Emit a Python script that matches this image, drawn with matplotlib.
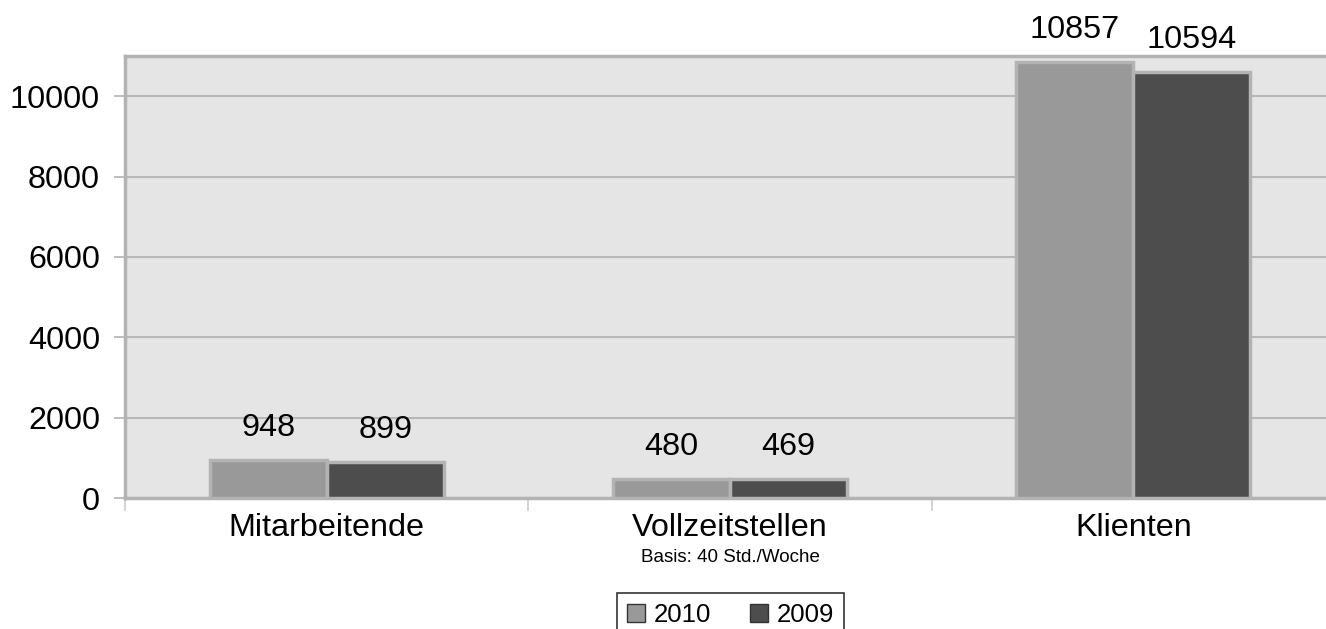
import matplotlib.pyplot as plt
from matplotlib.patches import Patch

# data
categories = ["Mitarbeitende", "Vollzeitstellen", "Klienten"]
years = ["2010", "2009"]
vals_2010 = [948, 480, 10857]
vals_2009 = [899, 469, 10594]
yticks = [0, 2000, 4000, 6000, 8000, 10000]

plt.rcParams['font.family'] = ['Liberation Sans', 'DejaVu Sans']

W, H = 1326, 629
fig = plt.figure(figsize=(W / 100, H / 100), dpi=100)
# plot area runs a bit past the right edge of the picture
ax = fig.add_axes([125 / W, (H - 498) / H, 1210 / W, (498 - 56) / H])

bg = "#e5e5e5"
edge = "#b3b3b3"
c2010 = "#999999"
c2009 = "#4d4d4d"

ax.set_facecolor(bg)
x = list(range(len(categories)))
bw = 0.29
b1 = ax.bar([i - bw / 2 for i in x], vals_2010, width=bw, color=c2010,
            edgecolor=edge, linewidth=2.5, zorder=3)
b2 = ax.bar([i + bw / 2 for i in x], vals_2009, width=bw, color=c2009,
            edgecolor=edge, linewidth=2.5, zorder=3)

# value labels above bars
for bars, vals in ((b1, vals_2010), (b2, vals_2009)):
    for rect, v in zip(bars, vals):
        ax.annotate(str(v), (rect.get_x() + rect.get_width() / 2, v),
                    xytext=(0, 23), textcoords="offset points",
                    ha="center", va="center", fontsize=23.3, color="black",
                    annotation_clip=False)

ax.set_xlim(-0.5, 2.5)
ax.set_ylim(0, 11000)
ax.set_yticks(yticks)
ax.set_yticklabels([str(t) for t in yticks], fontsize=23.3)
ax.yaxis.grid(True, color="#b8b8b8", linewidth=1.5, zorder=0)
ax.set_axisbelow(True)
ax.tick_params(axis="y", length=8, width=1.2, color=edge, pad=10)

ax.set_xticks(x)
ax.set_xticklabels(categories, fontsize=23.3)
ax.tick_params(axis="x", which="major", length=0, pad=10.5)
ax.set_xticks([-0.5, 0.5, 1.5, 2.5], minor=True)
ax.tick_params(axis="x", which="minor", length=9, width=1.2, color="#cccccc")

for side in ["left", "top", "bottom"]:
    ax.spines[side].set_color(edge)
    ax.spines[side].set_linewidth(2.5)
ax.spines["right"].set_visible(False)

fig.text(730 / W, 1 - 558 / H, "Basis: 40 Std./Woche", ha="center",
         va="center", fontsize=13.5)

handles = [Patch(facecolor=c2010, edgecolor="#333333", linewidth=1),
           Patch(facecolor=c2009, edgecolor="#333333", linewidth=1)]
leg = fig.legend(handles, years, loc="upper center", ncol=2,
                 bbox_to_anchor=(730.5 / W, 1 - 593 / H),
                 fontsize=18.5, frameon=True, fancybox=False,
                 handlelength=0.7, handleheight=0.7, handletextpad=0.35,
                 columnspacing=1.5, borderpad=0.4, borderaxespad=0)
leg.get_frame().set_edgecolor("black")
leg.get_frame().set_linewidth(1.2)

fig.savefig("out.png", dpi=100)
